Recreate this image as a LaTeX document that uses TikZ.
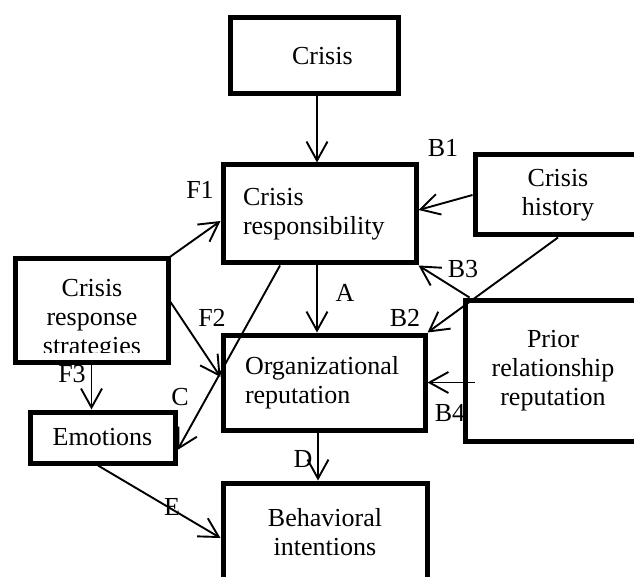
\documentclass[tikz,border=0pt]{standalone}
\usepackage{fontspec}
\setmainfont{Liberation Serif}
\usetikzlibrary{arrows.meta}

\begin{document}
\begin{tikzpicture}[x=1pt, y=-1pt,
    box/.style={draw, fill=white, line width=5pt, rectangle, inner sep=0pt, align=center, font=\fontsize{26}{29}\selectfont},
    link/.style={line width=1.9pt, -{Straight Barb[length=19pt,width=21pt]}},
    lbl/.style={font=\fontsize{26}{29}\selectfont, inner sep=0pt}]
  \useasboundingbox (0,0) rectangle (634,577);
  \clip (0,0) rectangle (634,577);

  % path labels
  \node[lbl] (la) at (345,293) {A};
  \node[lbl] (lb1) at (443,148) {B1};
  \node[lbl] (lb2) at (405,318) {B2};
  \node[lbl] (lb3) at (463,269) {B3};
  \node[lbl] (lb4) at (450,413) {B4};
  \node[lbl] (lc) at (180,397) {C};
  \node[lbl] (ld) at (303,459) {D};
  \node[lbl] (le) at (172,507) {E};
  \node[lbl] (lf1) at (200,190) {F1};
  \node[lbl] (lf2) at (212,318) {F2};
  \node[lbl] (lf3) at (72,374) {F3};

  % boxes
  \node[box, minimum width=168pt, minimum height=76pt, text width=44pt, align=left] (crisis) at (314,56) {Crisis};
  \node[box, minimum width=193pt, minimum height=98pt, text width=153pt, align=left] (resp) at (319.5,214) {Crisis\\responsibility};
  \node[box, minimum width=202pt, minimum height=95pt, text width=158pt, align=left] (org) at (324,382.5) {Organizational\\reputation};
  \node[box, minimum width=166pt, minimum height=80pt] (hist) at (558,195) {Crisis\\history};
  \node[box, minimum width=176pt, minimum height=141pt] (prior) at (553,370.5) {Prior\\relationship\\reputation};
  \node[box, minimum width=153pt, minimum height=103pt] (crs) at (91.5,310.5) {};
  \begin{scope}
    \clip (17.5,261.5) rectangle (165.5,352);
    \node[lbl, align=center] (crstext) at (92,320) {Crisis\\response\\strategies};
  \end{scope}
  \node[box, minimum width=145pt, minimum height=51pt] (emo) at (102.5,437.5) {Emotions};
  \node[box, minimum width=204pt, minimum height=98pt] (beh) at (325,532) {Behavioral\\intentions};

  % paths
  \draw[link] ([xshift=3pt]crisis.south) -- ([xshift=3pt]crisis.south |- resp.north);
  \draw[link] ([xshift=-2.5pt]resp.south) -- ([xshift=-2.5pt]resp.south |- org.north);
  \draw[link] (hist.west) -- ([yshift=4pt]resp.east);
  \draw[link] ([xshift=7pt]prior.north west) -- (resp.south east);
  \draw[link] (hist.south) -- (org.north east);
  \draw[link] ([xshift=12pt,yshift=-12pt]prior.west) -- (org.east);
  \draw[link] (crs.north east) -- ([yshift=-7pt]resp.west);
  \draw[link] ([yshift=8.5pt]crs.east) -- ([yshift=5.5pt]org.west);
  \draw[link] ([xshift=-39.5pt]resp.south) -- ([yshift=-12.5pt]emo.east);
  \draw[link] (crs.south) -- (crs.south |- emo.north);
  \draw[link] ([xshift=-6pt]org.south) -- ([xshift=-6pt]org.south |- beh.north);
  \draw[link] ([xshift=-4.5pt]emo.south) -- ([yshift=-6pt]beh.west);
\end{tikzpicture}
\end{document}
